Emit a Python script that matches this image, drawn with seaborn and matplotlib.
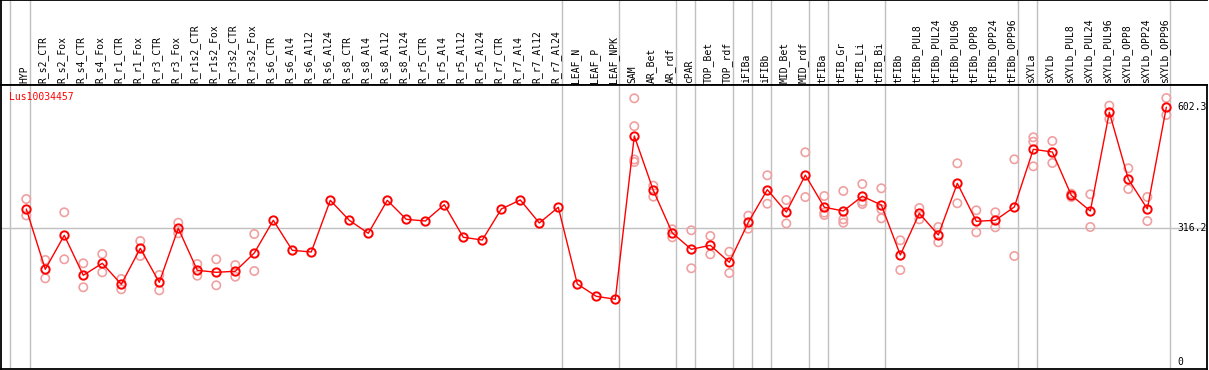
# Expression profile of Lus10034457 across tissues / treatments, drawn as a line of means plus replicate points

import numpy as np
import pandas as pd
import matplotlib
matplotlib.use("Agg")
import matplotlib.pyplot as plt
import seaborn as sns

# Sample names in display order
samples = ["HYP",
           "R_s2_CTR", "R_s2_Fox", "R_s4_CTR", "R_s4_Fox", "R_r1_CTR", "R_r1_Fox",
           "R_r3_CTR", "R_r3_Fox", "R_r1s2_CTR", "R_r1s2_Fox", "R_r3s2_CTR", "R_r3s2_Fox",
           "R_s6_CTR", "R_s6_Al4", "R_s6_Al12", "R_s6_Al24", "R_s8_CTR", "R_s8_Al4",
           "R_s8_Al12", "R_s8_Al24", "R_r5_CTR", "R_r5_Al4", "R_r5_Al12", "R_r5_Al24",
           "R_r7_CTR", "R_r7_Al4", "R_r7_Al12", "R_r7_Al24",
           "LEAF_N", "LEAF_P", "LEAF_NPK",
           "SAM", "AR_Bet", "AR_rdf", "cPAR", "TOP_Bet", "TOP_rdf", "iFIBa", "iFIBb",
           "MID_Bet", "MID_rdf", "tFIBa", "tFIB_Gr", "tFIB_Li", "tFIB_Bi", "tFIBb",
           "tFIBb_PUL8", "tFIBb_PUL24", "tFIBb_PUL96", "tFIBb_OPP8", "tFIBb_OPP24", "tFIBb_OPP96",
           "sXYLa", "sXYLb", "sXYLb_PUL8", "sXYLb_PUL24", "sXYLb_PUL96",
           "sXYLb_OPP8", "sXYLb_OPP24", "sXYLb_OPP96"]

# Mean expression per sample
means = [361.7,
         218.9, 299.4, 204.7, 233.1, 183.4, 268.6,
         188.1, 316.0, 216.5, 211.8, 214.2, 257.5,
         335.0, 263.9, 259.9, 382.3, 335.0, 304.2,
         382.3, 337.3, 333.3, 372.0, 294.7, 288.3,
         361.7, 383.1, 328.6, 365.8,
         184.1, 154.9, 147.8,
         534.7, 406.0, 304.9, 266.3, 275.7, 235.5, 330.2, 407.5,
         354.5, 442.0, 366.0, 357.0, 392.0, 371.2, 252.8,
         351.5, 300.2, 422.6, 332.6, 335.0, 366.5,
         503.2, 496.8, 394.2, 357.0, 590.8,
         432.5, 362.0, 603.0]

# Individual replicate values (empty where only one value was available)
replicates = [[385.4, 346.5],
              [240.9, 197.5], [353.9, 242.6], [233.1, 176.3], [255.1, 211.8], [195.9, 171.5], [285.9, 250.4],
              [205.4, 169.1], [329.3, 304.2], [231.4, 203.7], [242.6, 181.0], [229.0, 201.4], [302.5, 214.9],
              [], [], [], [], [], [],
              [], [], [], [], [], [],
              [], [], [], [],
              [], [], [],
              [624.0, 558.0, 479.0, 473.0], [417.0, 391.0], [313.6, 294.7], [311.3, 221.3], [297.8, 254.4],
              [260.6, 210.1], [345.9, 315.1], [441.6, 374.3],
              [383.0, 327.5], [496.0, 390.0], [392.5, 353.0, 347.5], [404.4, 337.3, 329.3],
              [421.0, 379.0, 373.6], [410.8, 361.0, 339.7], [287.6, 217.2],
              [364.1, 337.3], [319.1, 282.9], [470.0, 375.3], [358.7, 306.5], [353.9, 318.4], [479.5, 250.4],
              [531.6, 521.2, 462.9], [522.8, 470.7], [398.0, 390.0], [396.6, 319.1], [606.5, 575.0],
              [458.2, 409.1], [390.2, 333.3], [624.7, 584.4]]

gene = "Lus10034457"
y_ticks = [0, 316.2, 602.3]
# last sample of each group (separators drawn just after them)
group_ends = [0, 28, 31, 34, 35, 37, 38, 39, 41, 42, 45, 52, 53, 60]

pos = np.arange(len(samples))
df_mean = pd.DataFrame({"pos": pos, "sample": samples, "value": means})
rows = [(i, v) for i, reps in enumerate(replicates) for v in reps]
df_rep = pd.DataFrame(rows, columns=["pos", "value"])

sns.set_style("white")
plt.rcParams["font.family"] = ["DejaVu Sans Mono", "DejaVu Sans"]

W, H = 1209, 370
fig = plt.figure(figsize=(W / 100, H / 100), dpi=100)
ax_top = fig.add_axes([1 / W, (H - 85) / H, 1206 / W, 85 / H])
ax = fig.add_axes([1 / W, 1 / H, 1206 / W, 284 / H])

xlim = (-1.33, 62.14)
for a in (ax, ax_top):
    a.set_xlim(*xlim)
    a.set_xticks([])
    a.set_yticks([])
    a.axvline(-0.84, color="#c0c0c0", lw=1, zorder=0)
    for g in group_ends:
        a.axvline(g + 0.21, color="#c0c0c0", lw=1, zorder=0)
    for s in a.spines.values():
        s.set_color("black")
        s.set_linewidth(1.3)
ax_top.spines["right"].set_visible(False)
ax_top.set_ylim(0, 1)

# rotated sample labels
for i, name in enumerate(samples):
    ax_top.text(i - 0.1, 0.025, name, rotation=90, ha="center", va="bottom",
                fontsize=7, color="black")

ax.set_ylim(-17.3, 655.5)
ax.axhline(316.2, color="#c0c0c0", lw=1, zorder=0)

sns.scatterplot(data=df_rep, x="pos", y="value", ax=ax, s=36, marker="o",
                facecolor="none", edgecolor="#f0a0a0", linewidth=1.2, zorder=2, legend=False)
sns.lineplot(data=df_mean, x="pos", y="value", ax=ax, color="red", lw=1,
             marker="o", markersize=6, markerfacecolor="none", markeredgecolor="red",
             markeredgewidth=1.4, zorder=3)
ax.set_xlabel("")
ax.set_ylabel("")

for t in y_ticks:
    ax.text(60.6, t, f"{t:g}", ha="left", va="center", fontsize=7, color="black")

ax.text(-0.9, 640, gene, ha="left", va="top", fontsize=7, color="red")

fig.savefig("out.png", dpi=100)
